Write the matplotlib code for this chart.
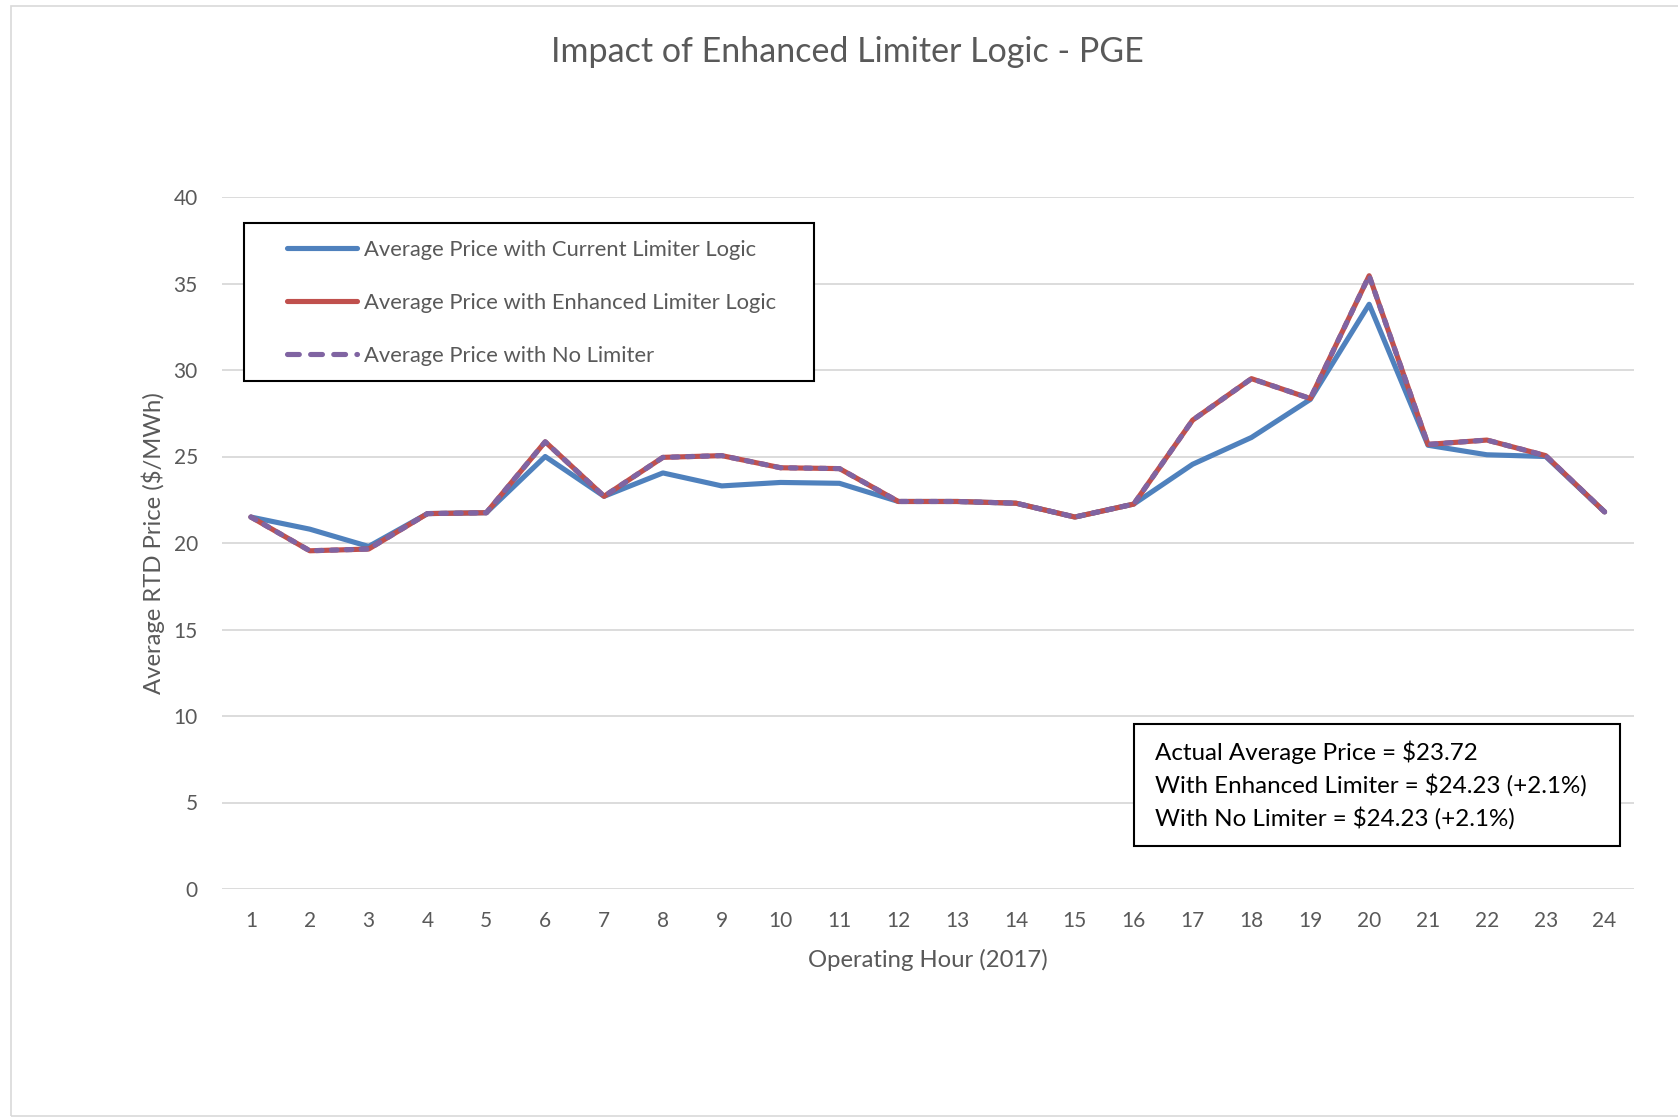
import matplotlib
matplotlib.use("Agg")
import matplotlib.pyplot as plt
from matplotlib.patches import Rectangle
from matplotlib.lines import Line2D

hours = list(range(1, 25))
current = [21.5, 20.8, 19.8, 21.7, 21.75, 25.0, 22.7, 24.05, 23.3, 23.5, 23.45, 22.4,
           22.4, 22.3, 21.5, 22.25, 24.55, 26.1, 28.3, 33.8, 25.65, 25.1, 25.0, 21.8]
enhanced = [21.5, 19.55, 19.65, 21.7, 21.75, 25.85, 22.7, 24.95, 25.05, 24.35, 24.3, 22.4,
            22.4, 22.3, 21.5, 22.25, 27.1, 29.5, 28.35, 35.45, 25.7, 25.95, 25.05, 21.8]
no_limiter = [21.5, 19.55, 19.65, 21.7, 21.75, 25.85, 22.7, 24.95, 25.05, 24.35, 24.3, 22.4,
              22.4, 22.3, 21.5, 22.25, 27.1, 29.5, 28.35, 35.45, 25.7, 25.95, 25.05, 21.8]
y_ticks = [0, 5, 10, 15, 20, 25, 30, 35, 40]
series_labels = ["Average Price with Current Limiter Logic",
                 "Average Price with Enhanced Limiter Logic",
                 "Average Price with No Limiter"]
summary_lines = ["Actual Average Price = $23.72",
                 "With Enhanced Limiter = $24.23 (+2.1%)",
                 "With No Limiter = $24.23 (+2.1%)"]

FONT = ["Lato", "DejaVu Sans"]
plt.rcParams["font.family"] = FONT
GRAY = "#595959"
BLUE = "#4F81BD"
RED = "#C0504D"
PURPLE = "#8064A2"
W, H = 1678, 1118

fig = plt.figure(figsize=(W / 100, H / 100), dpi=100)

def fx(px):
    return px / W

def fy(py):
    return 1 - py / H

# outer chart border
fig.patches.append(Rectangle((fx(11), fy(1116)), fx(1700 - 11), fy(6) - fy(1116),
                             transform=fig.transFigure, fill=False,
                             edgecolor="#D9D9D9", linewidth=1.2))

ax = fig.add_axes([fx(221.5), fy(889), fx(1634) - fx(221.5), fy(197) - fy(889)])
lw = 3.7
ax.plot(hours, current, color=BLUE, linewidth=lw, solid_joinstyle="round",
        solid_capstyle="round", zorder=3)
ax.plot(hours, enhanced, color=RED, linewidth=lw, solid_joinstyle="round",
        solid_capstyle="round", zorder=4)
ax.plot(hours, no_limiter, color=PURPLE, linewidth=lw, dashes=(1.1, 1.8),
        dash_capstyle="round", dash_joinstyle="round", zorder=5)

ax.set_xlim(0.5, 24.5)
ax.set_ylim(0, 40)
ax.set_xticks(hours)
ax.set_xticklabels([str(h) for h in hours])
ax.set_yticks(y_ticks)
ax.yaxis.grid(True, color="#D9D9D9", linewidth=1.3)
ax.set_axisbelow(True)
for s in ax.spines.values():
    s.set_visible(False)
ax.tick_params(axis="both", length=0, labelsize=15, labelcolor=GRAY)
ax.tick_params(axis="x", pad=16)
ax.tick_params(axis="y", pad=17)

ax.set_xlabel("Operating Hour (2017)", fontsize=17.2, color=GRAY, labelpad=13)
ax.set_ylabel("Average RTD Price ($/MWh)", fontsize=17.2, color=GRAY, labelpad=6)

fig.text(0.505, fy(52), "Impact of Enhanced Limiter Logic - PGE", ha="center",
         va="center", fontsize=24.5, color=GRAY)

# legend box
fig.patches.append(Rectangle((fx(244), fy(381)), fx(814) - fx(244), fy(223) - fy(381),
                             transform=fig.transFigure, fill=True, facecolor="white",
                             edgecolor="black", linewidth=1.5, zorder=10))
handles = [Line2D([], [], color=BLUE, linewidth=lw, solid_capstyle="round"),
           Line2D([], [], color=RED, linewidth=lw, solid_capstyle="round"),
           Line2D([], [], color=PURPLE, linewidth=lw, dashes=(2.3, 2.2),
                  dash_capstyle="round")]
leg = fig.legend(handles, series_labels, loc="upper left",
                 bbox_to_anchor=(fx(287), fy(240)), frameon=False,
                 fontsize=15.8, labelcolor=GRAY, handlelength=3.2,
                 handletextpad=0.3, labelspacing=1.5, borderpad=0, borderaxespad=0)
leg.set_zorder(11)

# summary box
fig.patches.append(Rectangle((fx(1134), fy(846)), fx(1620) - fx(1134), fy(724) - fy(846),
                             transform=fig.transFigure, fill=True, facecolor="white",
                             edgecolor="black", linewidth=1.5, zorder=10))
for i, line in enumerate(summary_lines):
    fig.text(fx(1155), fy(752 + i * 33), line, ha="left", va="center",
             fontsize=17.4, color="black", zorder=11)

fig.savefig("out.png", dpi=100, facecolor="white")
